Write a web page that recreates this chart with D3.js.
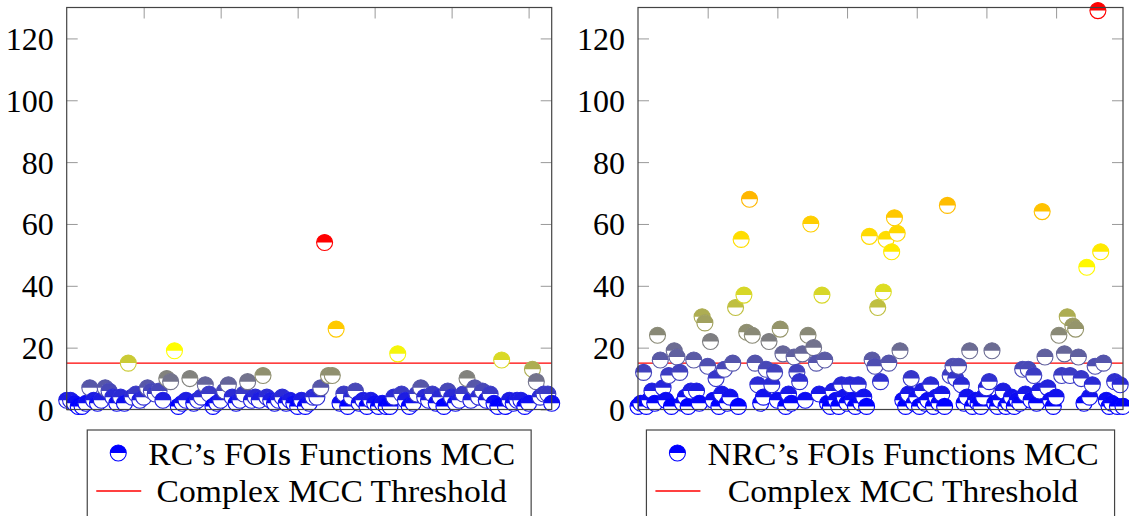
<!DOCTYPE html>
<html>
<head>
<meta charset="utf-8">
<script src="https://cdn.jsdelivr.net/npm/d3@7"></script>
<style>
  body { margin: 0; background: #fff; }
  text { font-family: "Liberation Serif", "Times New Roman", serif; fill: #000; }
</style>
</head>
<body>
<div id="chart"></div>
<script>

// ---- data ----
var rcValues = [3, 3, 2, 1, 1, 2, 7, 3, 2, 3, 7, 6, 4, 2, 4, 2, 15, 4, 5, 3,
  4, 7, 6, 5, 6, 3, 10, 9, 19, 1, 2, 3, 10, 2, 3, 4, 8, 5, 1, 2,
  3, 6, 8, 4, 2, 3, 5, 9, 3, 4, 3, 11, 4, 3, 2, 3, 4, 2, 3, 2,
  1, 3, 1, 2, 4, 4, 7, 54, 11, 11, 26, 2, 5, 1, 4, 6, 2, 3, 1, 3,
  2, 1, 2, 1, 1, 4, 18, 5, 3, 1, 2, 5, 7, 4, 3, 5, 2, 4, 1, 6,
  4, 2, 3, 5, 10, 3, 7, 4, 6, 3, 5, 2, 1, 16, 1, 3, 2, 3, 3, 1,
  2, 13, 9, 4, 5, 5, 2];

var nrcValues = [1, 2, 12, 1, 3, 6, 2, 24, 16, 7, 3, 11, 1, 19, 17, 12, 2, 4, 1, 6,
  16, 6, 2, 30, 28, 14, 22, 3, 10, 1, 5, 13, 2, 4, 15, 33, 1, 55, 37, 25,
  68, 24, 15, 8, 2, 4, 13, 22, 8, 12, 3, 26, 18, 1, 5, 2, 17, 12, 9, 18,
  3, 24, 60, 20, 15, 5, 37, 16, 2, 1, 6, 3, 1, 8, 4, 2, 8, 3, 1, 8,
  2, 4, 1, 56, 16, 14, 33, 9, 38, 55, 15, 51, 62, 57, 19, 3, 1, 5, 10, 2,
  4, 1, 6, 2, 3, 8, 1, 4, 2, 5, 1, 66, 11, 14, 10, 14, 8, 2, 4, 19,
  1, 3, 2, 1, 4, 7, 9, 19, 2, 1, 3, 6, 1, 2, 4, 1, 3, 2, 13, 5,
  13, 3, 11, 2, 6, 64, 17, 7, 3, 1, 4, 24, 11, 18, 30, 11, 27, 26, 17, 10,
  2, 46, 4, 8, 14, 129, 51, 15, 3, 1, 2, 9, 1, 8, 1];

var yTicks = [0, 20, 40, 60, 80, 100, 120];
var rcXTicks = [20, 40, 60, 80, 100, 120];
var nrcXTicks = [25, 50, 75, 100, 125, 150];
var yMax = 130;
var threshold = 15;
var legendLabels = ["RC\u2019s FOIs Functions MCC", "NRC\u2019s FOIs Functions MCC"];
var thresholdLabel = "Complex MCC Threshold";

// pgfplots "hot" colormap
var hotColors = ["rgb(0,0,255)", "rgb(255,255,0)", "rgb(255,128,0)", "rgb(255,0,0)"];

var svg = d3.select("#chart").append("svg")
  .attr("width", 1129)
  .attr("height", 516);

var plotTop = 7.5, plotBottom = 409.5, markR = 8;

function halfCircle(g, color) {
  g.append("circle").attr("r", markR).attr("fill", "#fff");
  g.append("path")
    .attr("d", `M${-markR},0A${markR},${markR} 0 0 1 ${markR},0Z`)
    .attr("fill", color);
  g.append("circle").attr("r", markR)
    .attr("fill", "none")
    .attr("stroke", color)
    .attr("stroke-width", 1.1);
}

function drawPanel(values, xTicks, left, right, label) {
  var g = svg.append("g");

  var x = d3.scaleLinear().domain([0, values.length - 1]).range([left, right]);
  var y = d3.scaleLinear().domain([0, yMax]).range([plotBottom, plotTop]);

  var lo = d3.min(values), hi = d3.max(values);
  var color = d3.scaleLinear()
    .domain([lo, lo + (hi - lo) / 3, lo + 2 * (hi - lo) / 3, hi])
    .range(hotColors);

  // ticks (inside, on all four sides)
  var yl = g.append("g").attr("transform", `translate(${left},0)`)
    .call(d3.axisLeft(y).tickValues(yTicks).tickSize(-11).tickPadding(13));
  yl.selectAll("text").attr("font-size", 32).attr("dy", "0.34em")
    .style("font-family", "Liberation Serif");
  g.append("g").attr("transform", `translate(${right},0)`)
    .call(d3.axisRight(y).tickValues(yTicks).tickSize(-11).tickFormat(""));
  g.append("g").attr("transform", `translate(0,${plotTop})`)
    .call(d3.axisTop(x).tickValues(xTicks).tickSize(-11).tickFormat(""));
  g.append("g").attr("transform", `translate(0,${plotBottom})`)
    .call(d3.axisBottom(x).tickValues(xTicks).tickSize(-11).tickFormat(""));
  g.selectAll(".domain").remove();
  g.selectAll(".tick line").attr("stroke", "#999").attr("stroke-width", 1);

  // threshold
  g.append("line")
    .attr("x1", left).attr("x2", right)
    .attr("y1", y(threshold)).attr("y2", y(threshold))
    .attr("stroke", "rgb(255,0,0)").attr("stroke-width", 1.1);

  // marks
  values.forEach(function(v, i) {
    var m = g.append("g").attr("transform", `translate(${x(i)},${y(v)})`);
    halfCircle(m, color(v));
  });

  // frame
  g.append("rect")
    .attr("x", left).attr("y", plotTop)
    .attr("width", right - left).attr("height", plotBottom - plotTop)
    .attr("fill", "none").attr("stroke", "#444").attr("stroke-width", 1.2);

  // legend
  var lg = g.append("g");
  var t1 = lg.append("text").attr("font-size", 32).text(label);
  var t2 = lg.append("text").attr("font-size", 32).text(thresholdLabel);
  var w1 = t1.node().getComputedTextLength() * 1.05;
  var w2 = t2.node().getComputedTextLength() * 1.05;
  t1.attr("textLength", w1).attr("lengthAdjust", "spacingAndGlyphs");
  t2.attr("textLength", w2).attr("lengthAdjust", "spacingAndGlyphs");
  var colW = Math.max(w1, w2);
  var boxW = 61 + colW + 16;
  var bx = (left + right) / 2 - boxW / 2;
  lg.insert("rect", "text")
    .attr("x", bx).attr("y", 430)
    .attr("width", boxW).attr("height", 100)
    .attr("fill", "#fff").attr("stroke", "#444").attr("stroke-width", 1.2);
  t1.attr("x", bx + 61 + (colW - w1) / 2).attr("y", 465);
  t2.attr("x", bx + 61 + (colW - w2) / 2).attr("y", 502);
  var lm = lg.append("g").attr("transform", `translate(${bx + 31},453)`);
  halfCircle(lm, "rgb(0,0,255)");
  lg.append("line")
    .attr("x1", bx + 9).attr("x2", bx + 54)
    .attr("y1", 491).attr("y2", 491)
    .style("stroke", "#ff0000").attr("stroke-width", 1.4);
}

drawPanel(rcValues, rcXTicks, 66.7, 551.7, legendLabels[0]);
drawPanel(nrcValues, nrcXTicks, 638, 1123, legendLabels[1]);

</script>
</body>
</html>
